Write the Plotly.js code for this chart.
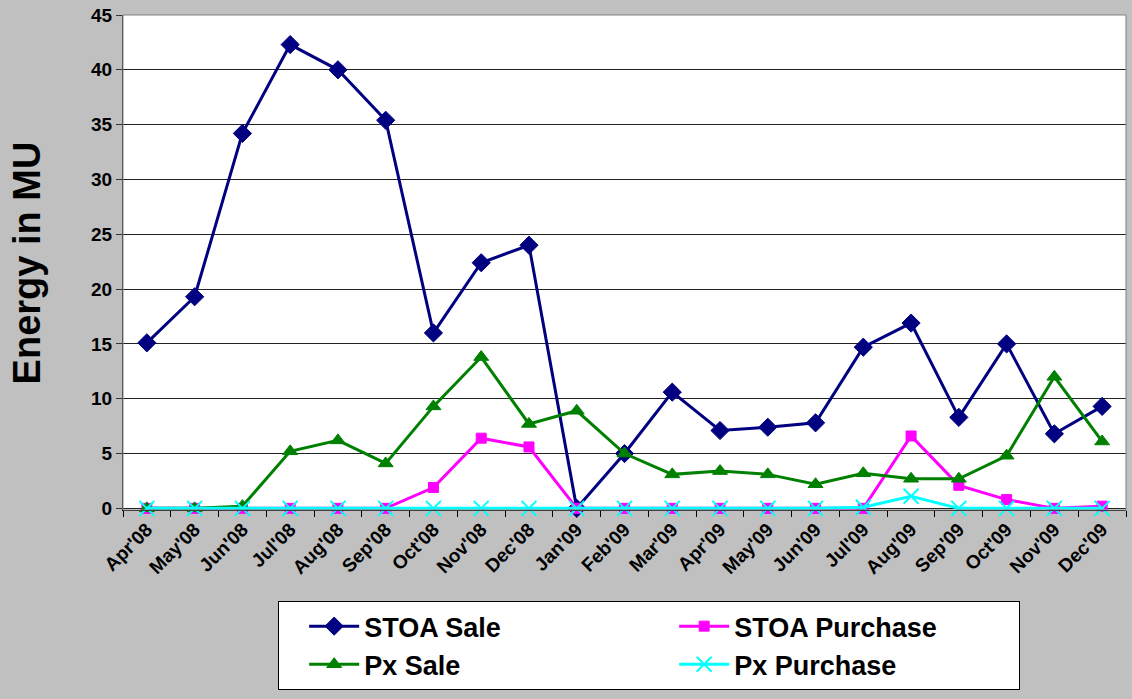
<!DOCTYPE html>
<html>
<head>
<meta charset="utf-8">
<script src="https://cdn.plot.ly/plotly-3.0.1.min.js"></script>
<style>html,body{margin:0;padding:0;background:#c0c0c0;}#chart{width:1132px;height:699px;}</style>
</head>
<body>
<div id="chart"></div>
<script>
const months = ["Apr'08","May'08","Jun'08","Jul'08","Aug'08","Sep'08","Oct'08","Nov'08","Dec'08","Jan'09","Feb'09","Mar'09","Apr'09","May'09","Jun'09","Jul'09","Aug'09","Sep'09","Oct'09","Nov'09","Dec'09"];
const stoaSale     = [15.1,19.3,34.2,42.3,40.0,35.4,16.0,22.4,24.0,0.0,5.0,10.6,7.1,7.4,7.8,14.7,16.9,8.3,15.0,6.8,9.3];
const stoaPurchase = [0,0,0,0,0,0,1.9,6.4,5.6,0,0,0,0,0,0,0,6.6,2.1,0.8,0,0.2];
const pxSale       = [0,0,0.2,5.2,6.2,4.1,9.3,13.8,7.7,8.9,5.0,3.1,3.4,3.1,2.2,3.2,2.7,2.7,4.8,12.0,6.1];
const pxPurchase   = [0,0,0,0,0,0,0,0,0,0,0,0,0,0,0,0.1,1.1,0,0,0,0];
const yTicks = [0,5,10,15,20,25,30,35,40,45];

const FONT = 'Arial, "Liberation Sans", sans-serif';

function tr(name, y, color, symbol, size, lw) {
  return {
    type: 'scatter', mode: 'lines+markers', name: name, x: months, y: y,
    line: {color: color, width: 3},
    marker: {color: color, symbol: symbol, size: size, line: {color: color, width: lw || 0}},
    cliponaxis: false
  };
}

const data = [
  tr('STOA Sale', stoaSale, '#000080', 'diamond', 14, 1),
  tr('STOA Purchase', stoaPurchase, '#ff00ff', 'square', 10, 1),
  tr('Px Sale', pxSale, '#008000', 'triangle-up', 13, 1),
  tr('Px Purchase', pxPurchase, '#00ffff', 'x-thin-open', 15, 2)
];

const layout = {
  width: 1132, height: 699,
  paper_bgcolor: '#c0c0c0', plot_bgcolor: '#ffffff',
  margin: {l: 123, r: 6, t: 15, b: 189},
  font: {family: FONT, color: '#000', size: 17},
  showlegend: true,
  xaxis: {
    type: 'category', range: [-0.5, months.length - 0.5], autorange: false,
    tickson: 'boundaries', ticks: 'outside', ticklen: 6, tickcolor: '#000',
    tickangle: -45, tickfont: {family: FONT, size: 19, color: '#000', weight: 'bold'},
    showline: true, linecolor: '#000', linewidth: 1, showgrid: false, zeroline: false,
    automargin: false
  },
  yaxis: {
    range: [-0.15, 45], autorange: false, tickvals: yTicks, ticktext: yTicks.map(String),
    ticks: 'outside', ticklen: 6, tickcolor: '#333',
    tickfont: {family: FONT, size: 19, color: '#000', weight: 'bold'},
    showline: true, linecolor: '#333', linewidth: 1,
    showgrid: true, gridcolor: '#222', gridwidth: 1, zeroline: false,
    automargin: false
  },
  shapes: [{type: 'rect', xref: 'paper', yref: 'paper', x0: 0, x1: 1, y0: 0, y1: 1,
            line: {color: '#808080', width: 1}, layer: 'above'}],
  annotations: [{
    xref: 'paper', yref: 'paper', x: -0.0958, y: 0.5, xanchor: 'center', yanchor: 'middle',
    text: 'Energy in MU', textangle: -90, showarrow: false,
    font: {family: FONT, size: 38, color: '#000', weight: 'bold'}
  }],
  legend: {
    orientation: 'h', x: 0.1547, y: -0.184, xanchor: 'left', yanchor: 'top',
    bgcolor: '#ffffff', bordercolor: '#000', borderwidth: 1,
    entrywidth: 280, entrywidthmode: 'pixels', indentation: 25, itemwidth: 50,
    font: {family: FONT, size: 27, color: '#000', weight: 'bold'},
    traceorder: 'normal'
  }
};

Plotly.newPlot('chart', data, layout, {displayModeBar: false, staticPlot: true});
</script>
</body>
</html>
